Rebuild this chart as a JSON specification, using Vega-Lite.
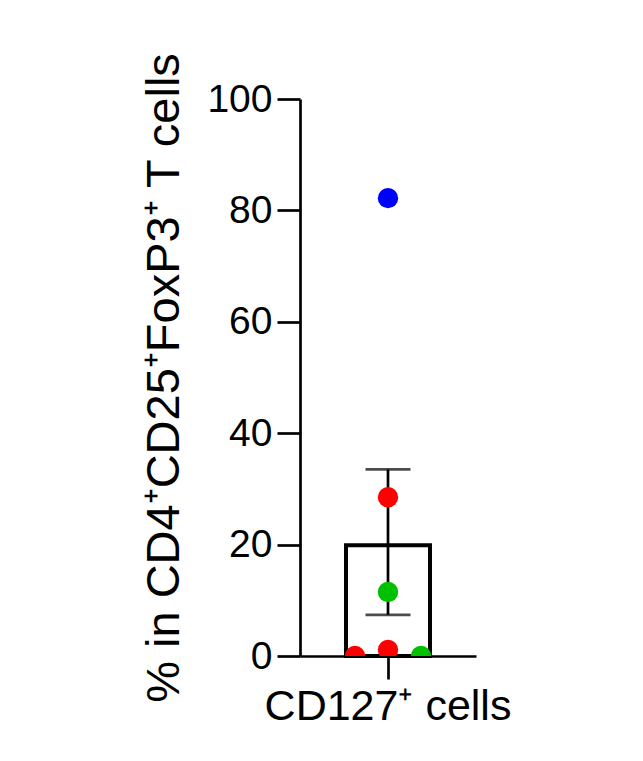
{
  "$schema": "https://vega.github.io/schema/vega-lite/v6.json",
  "width": 176,
  "height": 557,
  "autosize": "none",
  "padding": {"left": 300, "top": 99, "right": 167, "bottom": 105},
  "background": "white",
  "config": {
    "view": {"stroke": null},
    "font": "Liberation Sans",
    "axis": {
      "domainColor": "black", "domainWidth": 2.7, "tickColor": "black", "tickWidth": 2.7,
      "labelColor": "black", "titleColor": "black", "grid": false,
      "labelFont": "Liberation Sans", "titleFont": "Liberation Sans",
      "titleFontWeight": "normal", "labelLimit": 0, "titleLimit": 0
    }
  },
  "datasets": {
    "points": [
      {"group": "CD127⁺ cells", "donor": "A", "rep": 0, "value": 82.2},
      {"group": "CD127⁺ cells", "donor": "B", "rep": 0, "value": 28.5},
      {"group": "CD127⁺ cells", "donor": "C", "rep": 0, "value": 11.5},
      {"group": "CD127⁺ cells", "donor": "B", "rep": 0, "value": 1.1},
      {"group": "CD127⁺ cells", "donor": "B", "rep": -1, "value": 0.0},
      {"group": "CD127⁺ cells", "donor": "C", "rep": 1, "value": 0.0}
    ],
    "summary": [
      {"group": "CD127⁺ cells", "mean": 19.9, "lo": 7.4, "hi": 33.5}
    ]
  },
  "encoding": {
    "x": {
      "field": "group", "type": "nominal",
      "scale": {"paddingInner": 0, "paddingOuter": 0},
      "axis": {"title": null, "labelAngle": 0, "tickSize": 23, "labelPadding": 6, "labelFontSize": 43}
    }
  },
  "layer": [
    {
      "data": {"name": "summary"},
      "mark": {"type": "bar", "size": 84, "fill": "transparent", "stroke": "black", "strokeWidth": 4},
      "encoding": {
        "y": {
          "field": "mean", "type": "quantitative",
          "scale": {"domain": [0, 100], "nice": false},
          "axis": {"values": [0, 20, 40, 60, 80, 100], "tickSize": 23, "labelPadding": 5, "labelFontSize": 39,
                   "title": "% in CD4⁺CD25⁺FoxP3⁺ T cells", "titleFontSize": 47, "titlePadding": 18}
        }
      }
    },
    {
      "data": {"name": "summary"},
      "mark": {"type": "rule", "color": "black", "strokeWidth": 2.7},
      "encoding": {"y": {"field": "lo", "type": "quantitative"}, "y2": {"field": "hi"}}
    },
    {
      "data": {"name": "summary"},
      "mark": {"type": "tick", "orient": "horizontal", "size": 45, "thickness": 2.7, "color": "black"},
      "encoding": {"y": {"field": "hi", "type": "quantitative"}}
    },
    {
      "data": {"name": "summary"},
      "mark": {"type": "tick", "orient": "horizontal", "size": 45, "thickness": 2.7, "color": "black"},
      "encoding": {"y": {"field": "lo", "type": "quantitative"}}
    },
    {
      "data": {"name": "points"},
      "mark": {"type": "point", "filled": true, "opacity": 1, "size": 415, "clip": true},
      "encoding": {
        "y": {"field": "value", "type": "quantitative"},
        "xOffset": {"field": "rep", "type": "quantitative", "scale": {"domain": [-1, 1], "range": [55, 121]}},
        "color": {
          "field": "donor", "type": "nominal",
          "scale": {"domain": ["A", "B", "C"], "range": ["#0000FF", "#FF0000", "#00C000"]},
          "legend": null
        }
      }
    }
  ]
}
